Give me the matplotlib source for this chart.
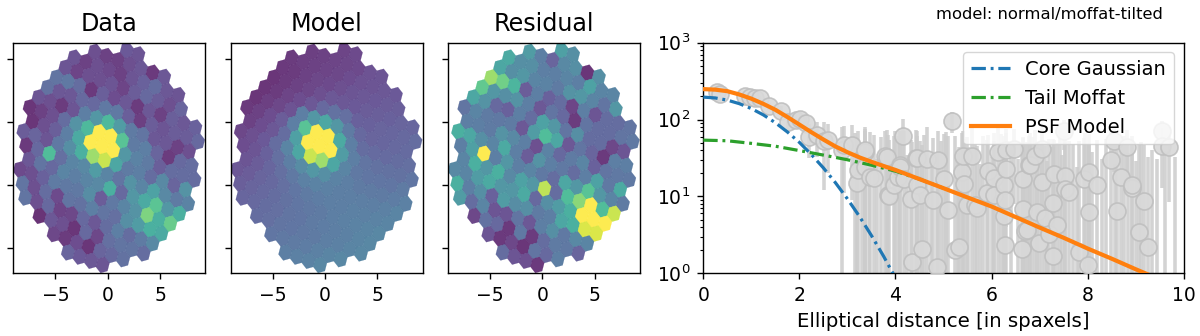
# -*- coding: utf-8 -*-

import numpy as np
import matplotlib
matplotlib.use('Agg')
import matplotlib.pyplot as plt
from matplotlib.collections import PolyCollection

# spaxel grid, one row per lattice line
row_index = [10, 9, 8, 7, 6, 5, 4, 3, 2, 1, 0, -1, -2, -3, -4, -5, -6, -7]
row_start = [-1, -3, -4, -4, -4, -4, -4, -4, -3, -3, -2, -1, -1, 0, 1, 3, 5, 7]

data_rows = [
    [.14, .12],
    [.10, .05, .05, .10, .13, .02, .13],
    [.12, .05, .10, .08, .05, .12, .17, .22, .13, .12],
    [.12, .06, .10, .10, .12, .06, .15, .20, .15, .10, .18],
    [.25, .27, .22, .02, .16, .09, .13, .03, .13, .05, .16, .13, .17],
    [.24, .13, .13, .20, .20, .27, .27, .16, .04, .15, .12, .15, .15, .20],
    [.12, .10, .03, .12, .30, .42, .60, .45, .28, .25, .13, .13, .05, .10],
    [.01, .05, .10, .22, .40, .60, 1., 1., .65, .28, .30, .18, .03, .20, .22],
    [.01, .10, .16, .30, .52, 1., 1., 1., .42, .32, .28, .16, .22, .22, .22],
    [.15, .18, .12, .27, .38, .55, .82, .90, .50, .28, .30, .22, .35, .18, .40],
    [.02, .20, .62, .23, .33, .35, .45, .33, .25, .40, .33, .48, .35, .28, .32],
    [.13, .25, .20, .33, .30, .33, .35, .55, .20, .42, .52, .66, .42, .55],
    [.08, .10, .17, .28, .27, .27, .37, .15, .27, .33, .40, .75, .55, .70],
    [.25, .10, .22, .08, .25, .24, .30, .25, .23, .38, .45, .55, .52],
    [.25, .10, .20, .06, .07, .20, .13, .22, .30, .22, .28, .35],
    [.00, .13, .10, .01, .20, .07, .23, .25, .25, .22],
    [.07, .03, .09, .01, .18, .20, .24],
    [.18, .14, .13, .12],
]

model_rows = [
    [.06, .08],
    [.04, .05, .06, .07, .08, .11, .12],
    [.03, .04, .05, .06, .07, .09, .11, .12, .13, .14],
    [.02, .03, .05, .07, .08, .10, .12, .13, .14, .15, .16],
    [.01, .03, .05, .07, .10, .13, .13, .14, .15, .16, .17, .18, .19],
    [.01, .03, .06, .09, .13, .20, .24, .23, .17, .17, .18, .19, .20, .22],
    [.01, .04, .07, .11, .30, .42, .50, .42, .28, .20, .18, .19, .20, .21],
    [.02, .05, .09, .15, .30, .65, 1., 1., .52, .30, .22, .21, .21, .22, .23],
    [.05, .09, .13, .22, .47, 1., 1., 1., .45, .30, .25, .24, .24, .24, .26],
    [.07, .10, .14, .22, .33, .50, .90, .82, .50, .33, .27, .26, .26, .26, .28],
    [.09, .12, .17, .23, .30, .36, .42, .38, .32, .30, .28, .28, .28, .29, .31],
    [.12, .15, .19, .23, .27, .31, .32, .31, .30, .30, .30, .30, .31, .33],
    [.13, .15, .18, .20, .23, .26, .28, .29, .30, .30, .31, .31, .32, .33],
    [.16, .18, .20, .22, .24, .26, .27, .28, .30, .31, .32, .33, .34],
    [.19, .20, .22, .23, .25, .26, .28, .29, .30, .31, .33, .34],
    [.22, .23, .25, .26, .27, .28, .30, .31, .33, .34],
    [.26, .27, .28, .29, .31, .33, .34],
    [.30, .31, .32, .34],
]

resid_rows = [
    [.47, .38],
    [.45, .30, .18, .35, .38, .01, .38],
    [.52, .38, .38, .30, .30, .33, .30, .48, .33, .33],
    [.50, .38, .42, .33, .32, .28, .40, .42, .33, .25, .42],
    [.82, .72, .58, .15, .30, .17, .22, .06, .30, .12, .22, .22, .25],
    [.68, .42, .38, .40, .30, .13, .25, .20, .03, .25, .22, .22, .25, .27],
    [.50, .40, .20, .17, .30, .22, .48, .42, .25, .38, .22, .22, .07, .12],
    [.25, .33, .28, .27, .28, .13, .45, .62, .50, .13, .25, .18, .02, .30, .30],
    [.30, .30, .28, .40, .35, .30, .10, .32, .20, .28, .33, .17, .25, .27, .27],
    [.55, .50, .38, .33, .52, .30, .15, .40, .30, .27, .22, .30, .48, .27, .52],
    [.30, .47, 1., .30, .42, .30, .33, .27, .22, .50, .42, .65, .42, .33, .28],
    [.33, .55, .42, .55, .35, .48, .42, .88, .22, .62, .78, 1., .62, .90],
    [.35, .33, .45, .52, .42, .42, .52, .20, .38, .45, .55, 1., 1., 1.],
    [.55, .30, .38, .17, .45, .37, .38, .28, .30, .50, .55, .93, .93],
    [.45, .22, .33, .12, .12, .25, .13, .30, .38, .27, .35, .33],
    [.07, .24, .20, .02, .27, .03, .22, .28, .27, .18],
    [.12, .02, .07, .01, .25, .20, .30],
    [.22, .12, .10, .02],
]

panel_names = ['Data', 'Model', 'Residual']

# radial profile points
prof_r = [.29, .35, .87, .97, 1.08, 1.19, 1.37, 1.62, 1.77, 1.94, 2.01, 2.14, 2.21, 2.36, 2.51, 2.60,
          2.88, 2.92, 3.09, 3.19, 3.23, 3.37, 3.37, 3.37, 3.47, 3.56, 3.78, 3.82, 3.85, 3.87, 3.96, 4.06,
          4.09, 4.10, 4.16, 4.17, 4.32, 4.34, 4.43, 4.44, 4.44, 4.51, 4.55, 4.65, 4.79, 4.87, 4.89, 5.00,
          5.10, 5.17, 5.24, 5.32, 5.38, 5.41, 5.43, 5.48, 5.59, 5.66, 5.69, 5.90, 5.93, 6.05, 6.06, 6.14,
          6.25, 6.25, 6.28, 6.29, 6.30, 6.31, 6.47, 6.63, 6.66, 6.66, 6.70, 6.73, 6.77, 6.80, 6.90, 6.94,
          6.98, 7.04, 7.04, 7.11, 7.19, 7.27, 7.27, 7.31, 7.36, 7.50, 7.52, 7.53, 7.62, 7.83, 7.92, 8.00,
          8.02, 8.03, 8.20, 8.48, 8.54, 8.62, 8.70, 8.81, 8.92, 8.93, 9.06, 9.17, 9.25, 9.54, 9.54, 9.69]
prof_v = [225, 215, 203, 199, 189, 189, 150, 131, 94, 99, 101, 89, 60, 63, 52, 54,
          40, 47, 47, 15, 22, 38, 24, 40, 18, 17.6, 34, 33, 10.4, 10, 14, 18,
          26, 24, 62, 17, 9.2, 1.4, 32, 14, 32, 10.4, 2.1, 31, 9, 1.22, 30, 17,
          6.7, 97, 2.0, 2.2, 21, 33.6, 14.4, 7.7, 33.6, 7.7, 7, 11, 21.4, 17.2, 10.4, 38,
          14, 5.5, 9, 2.3, 23, 40, 42, 2.1, 17, 6.8, 3.5, 3.7, 25.7, 25.7, 33.6, 6.3,
          2.5, 15.6, 42, 5.2, 3.2, 8.3, 1.7, 19.6, 4.3, 70, 18.5, 12.5, 11.3, 1.9, 17, 1.3,
          21, 6.3, 14, 30, 53, 6.5, 18, 44, 13, 14, 3.4, 8.7, 2.2, 70, 45, 44.5]
prof_err = [12, 12, 15, 14, 15, 16, 16, 18, 20, 22, 25, 25, 28, 30, 40, 34,
            39, 36, 38, 42, 50, 38, 46, 40, 50, 45, 38, 40, 52, 45, 48, 44,
            45, 46, 40, 55, 45, 50, 42, 48, 40, 42, 44, 50, 48, 36, 42, 48,
            55, 30, 60, 42, 46, 38, 42, 52, 45, 40, 38, 44, 42, 50, 42, 40,
            48, 38, 45, 42, 44, 36, 34, 45, 40, 52, 44, 48, 36, 42, 40, 45,
            46, 36, 38, 40, 52, 48, 42, 35, 45, 30, 42, 38, 42, 50, 40, 46,
            44, 42, 40, 40, 32, 46, 42, 30, 48, 40, 44, 38, 30, 25, 32, 36]

# spaxels whose value falls under the axis: only the bars show
low_r = [3.15, 3.3, 3.45, 3.62, 3.7, 4.0, 4.25, 4.6, 4.75, 4.95, 5.05, 5.3, 5.52, 5.75, 5.82, 6.0, 6.2, 6.4, 6.55,
         6.85, 7.15, 7.42, 7.46, 7.7, 7.78, 7.95, 8.1, 8.3, 8.38, 8.58, 8.75, 8.85, 9.0, 9.12, 9.35, 9.45, 9.62, 9.82]
low_v = [.5, .6, .4, .5, .7, .5, .6, .4, .5, .6, .5, .7, .4, .5, .6, .5, .4, .6, .5,
         .5, .6, .4, .5, .6, .5, .7, .4, .5, .6, .5, .4, .6, .5, .5, .6, .4, .5, .6]
low_err = [66, 38, 48, 30, 58, 70, 34, 62, 28, 52, 68, 36, 44, 26, 60, 32, 64, 40, 30,
           58, 28, 62, 34, 48, 24, 66, 38, 30, 56, 26, 60, 36, 28, 50, 40, 30, 38, 32]

core_r = [0, .25, .5, .75, 1, 1.25, 1.5, 1.75, 2, 2.25, 2.5, 2.75, 3, 3.25, 3.5, 3.75, 4]
core_v = [196, 191, 179, 161, 139, 115, 91, 69, 50.5, 35, 23.5, 15.1, 9.3, 5.5, 3.1, 1.68, .87]

tail_r = [0, .5, 1, 1.5, 2, 2.5, 3, 3.5, 4, 4.5, 5]
tail_v = [54, 53, 49, 45, 39.5, 34.5, 30, 25.5, 21.3, 16.8, 12.8]

psf_r = [0, .25, .5, .75, 1, 1.25, 1.5, 1.75, 2, 2.25, 2.5, 2.75, 3, 3.25, 3.5, 3.75, 4,
         4.5, 5, 5.5, 6, 6.5, 7, 7.5, 8, 8.5, 9, 9.25]
psf_v = [249, 245, 234, 212, 187, 160, 134, 108, 86, 68.4, 55, 44.7, 37.6, 32.2, 28.2, 24.9, 22.1,
         16.8, 12.8, 9.7, 7.4, 5.4, 3.94, 2.9, 2.1, 1.55, 1.13, .97]


def spaxel_polys():
    # lattice steps of the spaxel grid, in axis units
    step_a = np.array([1.107, -.331])
    step_b = np.array([.852, .788])
    origin = np.array([-5.59, 2.51])
    corners = np.array([step_a + step_b, 2 * step_b - step_a, step_b - 2 * step_a,
                        -step_a - step_b, step_a - 2 * step_b, 2 * step_a - step_b]) / 3.
    polys = list()
    for j, start, row in zip(row_index, row_start, data_rows):
        for k in range(len(row)):
            polys.append(origin + (start + k) * step_a + j * step_b + corners)
    return polys


plt.rcParams['font.family'] = 'DejaVu Sans'
fig = plt.figure(figsize=(12, 3.36), dpi=100)


def axes_px(left, right):
    return fig.add_axes([left / 1200., 1 - 273.3 / 336., (right - left) / 1200., 230.6 / 336.])


# hexagon maps
polys = spaxel_polys()
lefts = [13.3, 230.7, 448]
for name, rows, left in zip(panel_names, [data_rows, model_rows, resid_rows], lefts):
    ax = axes_px(left, left + 192)
    values = np.concatenate([np.array(r) for r in rows])
    coll = PolyCollection(polys, array=values, cmap='viridis', alpha=.8, edgecolors='face', linewidths=.15)
    coll.set_clim(0, 1)
    ax.add_collection(coll)
    ax.set_xlim(-9.03, 9.33)
    ax.set_ylim(-6.98, 11.32)
    ax.set_xticks([-5, 0, 5])
    ax.set_yticks([-5, 0, 5, 10])
    ax.set_yticklabels([])
    ax.tick_params(labelsize=13.5, length=4.5, width=1, pad=5)
    ax.set_title(name, fontsize=17.2, pad=8.5)
    for spine in ax.spines.values():
        spine.set_linewidth(1)

# radial profile
ax2 = axes_px(703.3, 1183.7)
ax2.errorbar(prof_r + low_r, prof_v + low_v, yerr=prof_err + low_err, fmt='none', ecolor='0.8',
             elinewidth=2.6, alpha=.85, zorder=2)
ax2.scatter(prof_r, prof_v, s=150, facecolor='0.85', edgecolor='0.75', linewidth=1.2, alpha=.9, zorder=3)
dash = (0, (4.5, 1.5, .9, 1.5))
ax2.plot(core_r, core_v, color='C0', ls=dash, lw=2.3, label='Core Gaussian', zorder=5)
ax2.plot(tail_r, tail_v, color='C2', ls=dash, lw=2.3, label='Tail Moffat', zorder=5)
ax2.plot(psf_r, psf_v, color='C1', lw=3, label='PSF Model', zorder=6)
ax2.set_yscale('log')
ax2.set_xlim(0, 10)
ax2.set_ylim(1, 1000)
ax2.set_xlabel('Elliptical distance [in spaxels]', fontsize=14.2, labelpad=5)
ax2.tick_params(labelsize=13.5, length=4.5, width=1, pad=5)
ax2.tick_params(which='minor', length=2.5, width=.8)
for spine in ax2.spines.values():
    spine.set_linewidth(1)
leg = ax2.legend(loc='upper right', fontsize=14)
leg.set_zorder(10)

fig.text(1049 / 1200., 1 - 14 / 336., 'model: normal/moffat-tilted', fontsize=11.8, ha='center', va='center')

plt.savefig('out.png', dpi=100)
plt.close('all')
